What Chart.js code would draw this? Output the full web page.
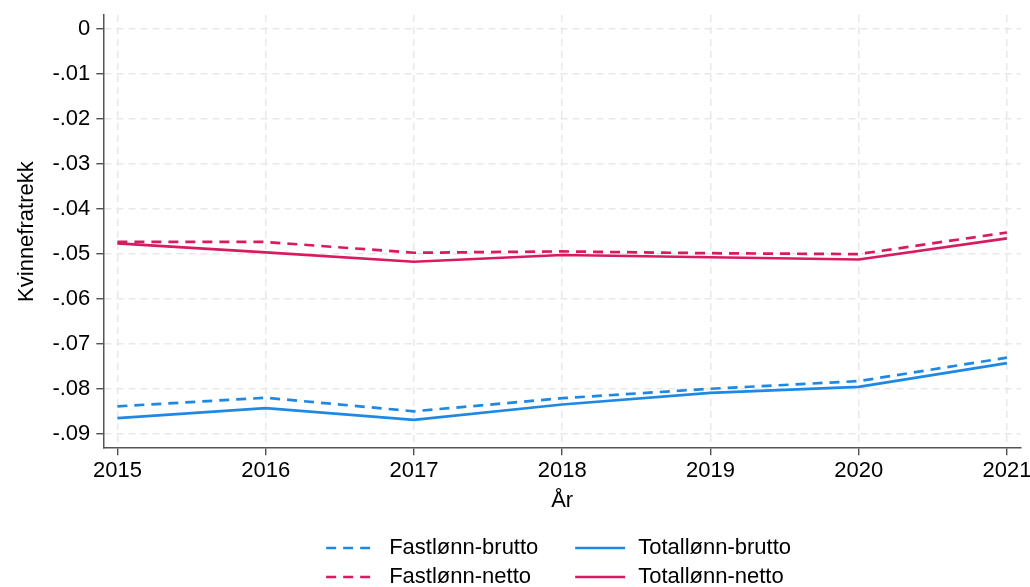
<!DOCTYPE html>
<html>
<head>
<meta charset="utf-8">
<script src="https://cdn.jsdelivr.net/npm/chart.js@4"></script>
<style>
  html, body { margin: 0; padding: 0; background: #fff; }
  #boks { width: 1030px; height: 587px; }
</style>
</head>
<body>
<div id="boks"><canvas id="graficaKvinnefratrekk"></canvas></div>
<script>
// år og verdier lest av figuren
const aar = [2015, 2016, 2017, 2018, 2019, 2020, 2021];
const yTicks = [0, -0.01, -0.02, -0.03, -0.04, -0.05, -0.06, -0.07, -0.08, -0.09];

const fastBrutto  = [-0.0838, -0.0819, -0.0849, -0.0820, -0.0799, -0.0782, -0.0730];
const totalBrutto = [-0.0864, -0.0842, -0.0868, -0.0834, -0.0808, -0.0795, -0.0742];
const fastNetto   = [-0.0473, -0.0473, -0.0497, -0.0494, -0.0498, -0.0500, -0.0452];
const totalNetto  = [-0.0476, -0.0496, -0.0517, -0.0502, -0.0507, -0.0512, -0.0465];

const blaa = '#1E88E5';
const roed = '#D81B60';
const skrift = "'Liberation Sans', Arial, sans-serif";

const punkter = verdier => aar.map((a, i) => ({ x: a, y: verdier[i] }));

/* legende i to kolonner under figuren */
const legendeBunn = {
  id: 'legendeBunn',
  afterDraw(chart) {
    const ctx = chart.ctx;
    const midt = (chart.chartArea.left + chart.chartArea.right) / 2;
    const kolX = [midt - 236, midt + 13];
    const radY = [548, 577];
    ctx.save();
    ctx.font = '22px ' + skrift;
    ctx.textBaseline = 'middle';
    ctx.fillStyle = '#000';
    chart.data.datasets.forEach((ds, i) => {
      const x = kolX[i % 2];
      const y = radY[Math.floor(i / 2)];
      ctx.strokeStyle = ds.borderColor;
      ctx.lineWidth = ds.borderWidth;
      ctx.setLineDash(ds.borderDash || []);
      ctx.beginPath();
      ctx.moveTo(x, y);
      ctx.lineTo(x + 50, y);
      ctx.stroke();
      ctx.setLineDash([]);
      ctx.fillText(ds.label, x + 63, y);
    });
    ctx.restore();
  }
};

document.addEventListener("DOMContentLoaded", () => {
  const ctx = document.getElementById('graficaKvinnefratrekk').getContext('2d');

  new Chart(ctx, {
    type: 'line',
    data: {
      datasets: [
        {
          label: 'Fastlønn-brutto',
          data: punkter(fastBrutto),
          borderColor: blaa,
          borderDash: [10, 7],
          borderWidth: 2.7,
          pointRadius: 0,
          fill: false
        },
        {
          label: 'Totallønn-brutto',
          data: punkter(totalBrutto),
          borderColor: blaa,
          borderWidth: 2.7,
          pointRadius: 0,
          fill: false
        },
        {
          label: 'Fastlønn-netto',
          data: punkter(fastNetto),
          borderColor: roed,
          borderDash: [10, 7],
          borderWidth: 2.7,
          pointRadius: 0,
          fill: false
        },
        {
          label: 'Totallønn-netto',
          data: punkter(totalNetto),
          borderColor: roed,
          borderWidth: 2.7,
          pointRadius: 0,
          fill: false
        }
      ]
    },
    options: {
      responsive: true,
      maintainAspectRatio: false,
      animation: false,
      layout: { padding: { top: 15, left: 14, right: 9, bottom: 73 } },
      plugins: {
        legend: { display: false },
        tooltip: { enabled: false }
      },
      scales: {
        x: {
          type: 'linear',
          min: 2014.905,
          max: 2021.095,
          afterFit: axis => { axis.paddingRight = 0; },
          title: {
            display: true,
            text: 'År',
            color: '#000',
            font: { family: skrift, size: 22 },
            padding: { top: 0, bottom: 0 }
          },
          ticks: {
            stepSize: 1,
            includeBounds: false,
            color: '#000',
            padding: 3,
            maxRotation: 0,
            font: { family: skrift, size: 22 },
            callback: value => String(value)
          },
          grid: { color: '#e8e8e8', lineWidth: 1.5, tickColor: '#333', tickLength: 7, tickWidth: 1.2 },
          border: { color: '#555', width: 1.5, dash: [7, 5] }
        },
        y: {
          min: -0.0931,
          max: 0.0031,
          afterFit: axis => { axis.paddingTop = 0; },
          title: {
            display: true,
            text: 'Kvinnefratrekk',
            color: '#000',
            font: { family: skrift, size: 22 },
            padding: { top: 0, bottom: 6 }
          },
          afterBuildTicks: axis => { axis.ticks = yTicks.map(v => ({ value: v })); },
          ticks: {
            color: '#000',
            padding: 6,
            font: { family: skrift, size: 22 },
            callback: value => {
              const r = Math.round(value * 100);
              if (r === 0) return '0';
              return '-.' + String(Math.abs(r)).padStart(2, '0');
            }
          },
          grid: { color: '#e8e8e8', lineWidth: 1.5, tickColor: '#333', tickLength: 7, tickWidth: 1.2 },
          border: { color: '#555', width: 1.5, dash: [7, 5] }
        }
      }
    },
    plugins: [legendeBunn]
  });
});
</script>
</body>
</html>
